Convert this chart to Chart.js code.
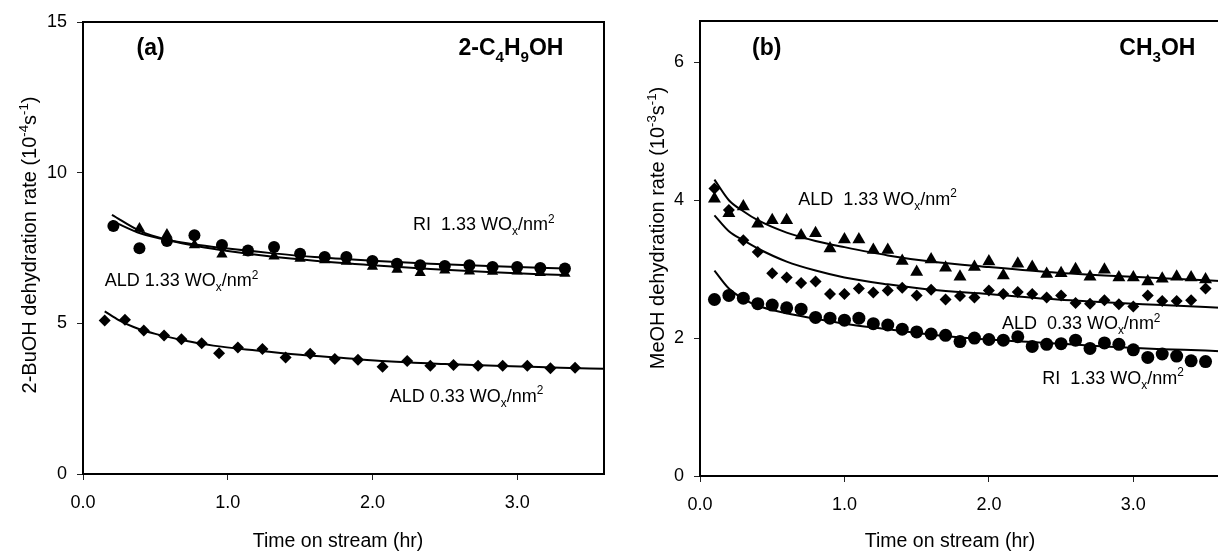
<!DOCTYPE html>
<html><head><meta charset="utf-8">
<script src="https://cdn.jsdelivr.net/npm/chart.js@4.4.0/dist/chart.umd.min.js"></script>
<style>
html,body{margin:0;padding:0;background:#fff;overflow:hidden;width:1218px;height:551px;position:relative}
#ca{position:absolute;left:0;top:0}
#cb{position:absolute;left:600px;top:0}
</style></head><body>
<canvas id="ca" width="620" height="551"></canvas>
<canvas id="cb" width="630" height="551"></canvas>
<script>
// ---------- Panel (a): 2-C4H9OH ----------
const xTicksA = [0, 1, 2, 3];
const yTicksA = [0, 5, 10, 15];
const riTimeA = [0.21,0.39,0.58,0.77,0.96,1.14,1.32,1.50,1.67,1.82,2.00,2.17,2.33,2.50,2.67,2.83,3.00,3.16,3.33];
const riRateA = [8.23,7.49,7.73,7.92,7.60,7.42,7.53,7.31,7.20,7.20,7.07,6.98,6.93,6.90,6.93,6.87,6.87,6.84,6.82];
const ald133TimeA = [0.39,0.58,0.77,0.96,1.14,1.32,1.50,1.67,1.82,2.00,2.17,2.33,2.50,2.67,2.83,3.00,3.16,3.33];
const ald133RateA = [8.15,7.95,7.60,7.29,7.35,7.23,7.15,7.10,7.05,6.89,6.79,6.68,6.76,6.73,6.72,6.73,6.68,6.65];
const ald033TimeA = [0.15,0.29,0.42,0.56,0.68,0.82,0.94,1.07,1.24,1.40,1.57,1.74,1.90,2.07,2.24,2.40,2.56,2.73,2.90,3.07,3.23,3.40];
const ald033RateA = [5.09,5.12,4.76,4.60,4.47,4.34,4.01,4.20,4.15,3.87,3.99,3.82,3.79,3.56,3.75,3.59,3.62,3.59,3.59,3.59,3.51,3.53];
const fitTimeA = [0.2,0.4,0.6,0.8,1.0,1.3,1.6,2.0,2.4,2.8,3.33];
const fitRiA = [8.40,7.98,7.75,7.60,7.48,7.33,7.20,7.08,6.98,6.90,6.82];
const fitAld133A = [8.60,8.05,7.75,7.55,7.40,7.22,7.08,6.93,6.80,6.70,6.60];
const fitTime033A = [0.15,0.25,0.35,0.5,0.7,0.9,1.2,1.5,1.8,2.1,2.5,2.9,3.3,3.6];
const fitAld033A = [5.40,5.10,4.88,4.65,4.43,4.26,4.10,3.96,3.85,3.74,3.65,3.58,3.53,3.49];

// ---------- Panel (b): CH3OH ----------
const xTicksB = [0, 1, 2, 3];
const yTicksB = [0, 2, 4, 6];
const timeB = [0.1,0.2,0.3,0.4,0.5,0.6,0.7,0.8,0.9,1.0,1.1,1.2,1.3,1.4,1.5,1.6,1.7,1.8,1.9,2.0,2.1,2.2,2.3,2.4,2.5,2.6,2.7,2.8,2.9,3.0,3.1,3.2,3.3,3.4,3.5];
const ald133RateB = [4.02,3.81,3.91,3.66,3.71,3.71,3.49,3.52,3.30,3.43,3.43,3.28,3.28,3.12,2.96,3.14,3.02,2.89,3.03,3.11,2.91,3.08,3.03,2.93,2.94,3.00,2.89,2.99,2.88,2.88,2.82,2.86,2.89,2.88,2.85];
const ald033RateB = [4.17,3.86,3.42,3.25,2.94,2.88,2.80,2.82,2.64,2.64,2.72,2.66,2.69,2.73,2.62,2.70,2.56,2.61,2.59,2.69,2.64,2.67,2.64,2.59,2.62,2.51,2.50,2.55,2.49,2.46,2.62,2.54,2.54,2.55,2.72];
const riRateB = [2.56,2.62,2.58,2.50,2.48,2.44,2.42,2.30,2.29,2.26,2.29,2.21,2.19,2.13,2.09,2.06,2.04,1.95,2.00,1.98,1.97,2.02,1.88,1.91,1.92,1.97,1.85,1.93,1.91,1.83,1.72,1.77,1.74,1.67,1.66];
const fitTimeB = [0.1,0.2,0.3,0.4,0.6,0.8,1.0,1.3,1.6,2.0,2.4,2.8,3.2,3.5,3.6];
const fitAld133B = [4.30,4.00,3.84,3.71,3.53,3.41,3.32,3.20,3.11,3.03,2.96,2.91,2.87,2.84,2.83];
const fitAld033B = [3.78,3.55,3.42,3.30,3.11,2.98,2.88,2.78,2.70,2.64,2.57,2.52,2.48,2.45,2.44];
const fitRiB = [2.98,2.72,2.57,2.47,2.36,2.28,2.21,2.13,2.05,1.98,1.93,1.88,1.84,1.82,1.81];

// ---------- text ----------
const FONT = '"Liberation Sans", Arial, Helvetica, sans-serif';
const xTitle = 'Time on stream (hr)';
const yTitleA = [{t:'2-BuOH dehydration rate (10'},{t:'-4',sup:1},{t:'s'},{t:'-1',sup:1},{t:')'}];
const yTitleB = [{t:'MeOH dehydration rate (10'},{t:'-3',sup:1},{t:'s'},{t:'-1',sup:1},{t:')'}];
const wox = (pre) => [{t:pre + ' WO'},{t:'x',sub:1},{t:'/nm'},{t:'2',sup:1}];
const notesA = [
  {parts: wox('RI  1.33'), x: 2.28, y: 8.30, align: 'left'},
  {parts: wox('ALD 1.33'), x: 0.15, y: 6.44, align: 'left'},
  {parts: wox('ALD 0.33'), x: 2.12, y: 2.62, align: 'left'},
  {parts: [{t:'(a)'}], x: 0.37, y: 14.17, align: 'left', bold: 1},
  {parts: [{t:'2-C'},{t:'4',sub:1},{t:'H'},{t:'9',sub:1},{t:'OH'}], x: 3.32, y: 14.17, align: 'right', bold: 1}
];
const notesB = [
  {parts: wox('ALD  1.33'), x: 0.68, y: 4.03, align: 'left'},
  {parts: wox('ALD  0.33'), x: 2.09, y: 2.22, align: 'left'},
  {parts: wox('RI  1.33'), x: 2.37, y: 1.43, align: 'left'},
  {parts: [{t:'(b)'}], x: 0.36, y: 6.22, align: 'left', bold: 1},
  {parts: [{t:'CH'},{t:'3',sub:1},{t:'OH'}], x: 3.43, y: 6.22, align: 'right', bold: 1}
];

function richWidth(ctx, parts, size, bold) {
  let w = 0;
  for (const p of parts) {
    const s = (p.sub || p.sup) ? size * 0.66 : size;
    ctx.font = (bold ? 'bold ' : '') + s + 'px ' + FONT;
    w += ctx.measureText(p.t).width;
  }
  return w;
}
function drawRich(ctx, parts, x, yMid, size, bold, align) {
  const w = richWidth(ctx, parts, size, bold);
  let cx = align === 'right' ? x - w : (align === 'center' ? x - w / 2 : x);
  const base = yMid + size * 0.36;
  ctx.textBaseline = 'alphabetic';
  ctx.textAlign = 'left';
  ctx.fillStyle = '#000';
  for (const p of parts) {
    const s = (p.sub || p.sup) ? size * 0.66 : size;
    ctx.font = (bold ? 'bold ' : '') + s + 'px ' + FONT;
    const dy = p.sub ? size * 0.28 : (p.sup ? -size * 0.42 : 0);
    ctx.fillText(p.t, cx, base + dy);
    cx += ctx.measureText(p.t).width;
  }
}

const decorPlugin = {
  id: 'decor',
  afterDraw(chart, args, o) {
    const ctx = chart.ctx, a = chart.chartArea;
    const xs = chart.scales.x, ys = chart.scales.y;
    ctx.save();
    ctx.strokeStyle = '#000';
    ctx.lineWidth = 2;
    ctx.beginPath();
    ctx.moveTo(a.left - 1, a.top);
    ctx.lineTo(a.right, a.top);
    ctx.lineTo(a.right, a.bottom + 1);
    ctx.stroke();
    for (const n of o.notes) {
      drawRich(ctx, n.parts, xs.getPixelForValue(n.x), ys.getPixelForValue(n.y),
               n.bold ? 23 : 18, n.bold, n.align);
    }
    drawRich(ctx, [{t: xTitle}], o.xTitleX, o.xTitleY, 19.5, 0, 'center');
    ctx.translate(o.yTitleX, o.yTitleY);
    ctx.rotate(-Math.PI / 2);
    drawRich(ctx, o.yTitle, 0, 0, 20, 0, 'center');
    ctx.restore();
  }
};

function scatterSet(xs, ys, style, r) {
  return {type: 'scatter', data: xs.map((v, i) => ({x: v, y: ys[i]})),
    pointStyle: style, pointRadius: r, pointHoverRadius: r,
    backgroundColor: '#000', borderColor: '#000', borderWidth: 0, showLine: false};
}
function lineSet(xs, ys) {
  return {type: 'line', data: xs.map((v, i) => ({x: v, y: ys[i]})),
    borderColor: '#000', borderWidth: 2, pointRadius: 0, fill: false,
    cubicInterpolationMode: 'monotone'};
}
function axes(xTicks, yTicks, xMax, yMax, yWidth, xHeight) {
  const tickFont = {family: FONT, size: 18};
  const grid = {drawOnChartArea: false, drawTicks: true, tickLength: 6, color: '#222', lineWidth: 1};
  const border = {display: true, color: '#000', width: 2};
  return {
    x: {type: 'linear', min: 0, max: xMax, grid, border,
      afterBuildTicks: s => { s.ticks = xTicks.map(v => ({value: v})); },
      afterFit: s => { s.height = xHeight; },
      ticks: {font: tickFont, color: '#000', padding: 12, includeBounds: false,
        callback: v => Number(v).toFixed(1), maxRotation: 0}},
    y: {type: 'linear', min: 0, max: yMax, grid, border,
      afterBuildTicks: s => { s.ticks = yTicks.map(v => ({value: v})); },
      afterFit: s => { s.width = yWidth; },
      ticks: {font: tickFont, color: '#000', padding: 10, includeBounds: false,
        callback: v => String(v)}}
  };
}
const common = {responsive: false, animation: false, devicePixelRatio: 1,
  plugins: {legend: {display: false}, tooltip: {enabled: false}}, events: []};

new Chart(document.getElementById('ca'), {
  type: 'scatter',
  data: {datasets: [
    lineSet(fitTimeA, fitRiA),
    lineSet(fitTimeA, fitAld133A),
    lineSet(fitTime033A, fitAld033A),
    scatterSet(ald133TimeA, ald133RateA, 'triangle', 6.5),
    scatterSet(riTimeA, riRateA, 'circle', 6),
    scatterSet(ald033TimeA, ald033RateA, 'rectRot', 6)
  ]},
  options: Object.assign({}, common, {
    layout: {padding: {left: 0, right: 16, top: 22, bottom: 0}},
    scales: axes(xTicksA, yTicksA, 3.6, 15, 83, 77),
    plugins: Object.assign({}, common.plugins, {decor: {notes: notesA, yTitle: yTitleA,
      xTitleX: 338, xTitleY: 540, yTitleX: 29, yTitleY: 245}})
  }),
  plugins: [decorPlugin]
});

new Chart(document.getElementById('cb'), {
  type: 'scatter',
  data: {datasets: [
    lineSet(fitTimeB, fitAld133B),
    lineSet(fitTimeB, fitAld033B),
    lineSet(fitTimeB, fitRiB),
    scatterSet(timeB, ald133RateB, 'triangle', 7.5),
    scatterSet(timeB, ald033RateB, 'rectRot', 6),
    scatterSet(timeB, riRateB, 'circle', 6.5)
  ]},
  options: Object.assign({}, common, {
    layout: {padding: {left: 0, right: 10, top: 21, bottom: 0}},
    scales: axes(xTicksB, yTicksB, 3.6, 6.6, 100, 75),
    plugins: Object.assign({}, common.plugins, {decor: {notes: notesB, yTitle: yTitleB,
      xTitleX: 350, xTitleY: 540, yTitleX: 57, yTitleY: 228}})
  }),
  plugins: [decorPlugin]
});
</script>
</body></html>
